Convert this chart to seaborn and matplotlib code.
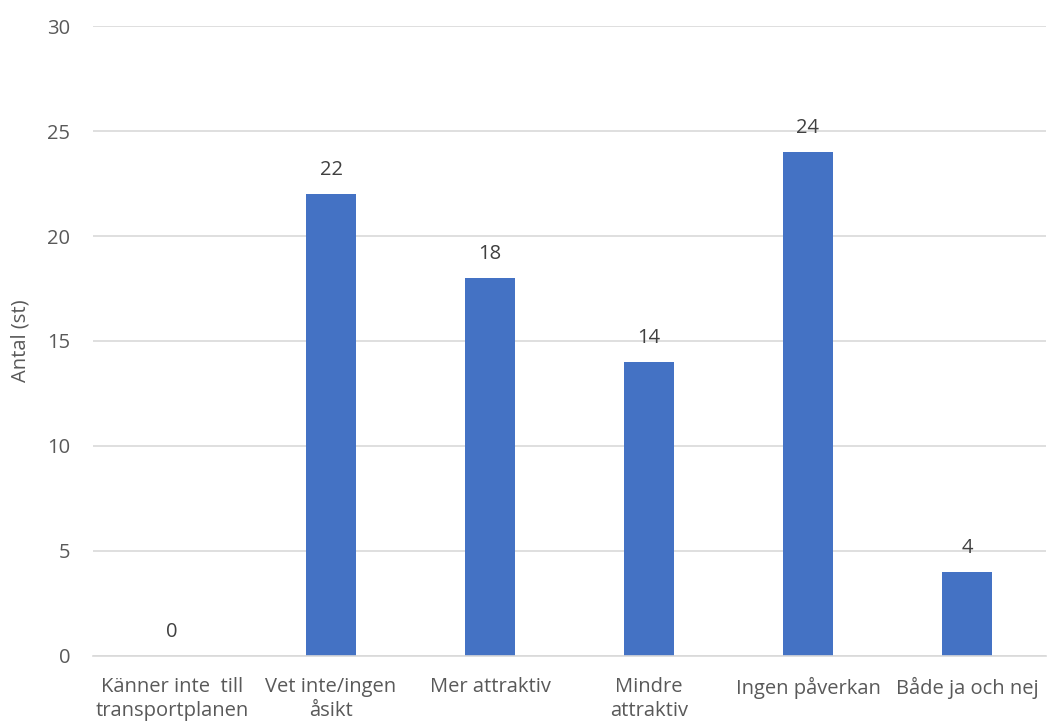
import matplotlib
matplotlib.use("Agg")
import matplotlib.pyplot as plt
import seaborn as sns
import pandas as pd

# ----------------- Dados -----------------
kategorier = ["Känner inte  till\ntransportplanen", "Vet inte/ingen\nåsikt", "Mer attraktiv",
              "Mindre\nattraktiv", "Ingen påverkan", "Både ja och nej"]
antal = [0, 22, 18, 14, 24, 4]
yticks = [0, 5, 10, 15, 20, 25, 30]

df = pd.DataFrame({"kategori": kategorier, "antal": antal})

sns.set_theme(style="white")
plt.rcParams['font.family'] = ['Open Sans', 'DejaVu Sans']

txt = "#595959"
fs = 14.5
fig = plt.figure(figsize=(10.47, 7.27), dpi=100)
ax = fig.add_axes([0.0884, 0.0977, 0.9111, 0.8665])

sns.barplot(data=df, x="kategori", y="antal", color="#4472C4", width=0.31,
            saturation=1, linewidth=0, ax=ax)

for i, v in enumerate(antal):
    ax.annotate(str(v), (i, v), xytext=(0, 10), textcoords="offset points",
                ha="center", va="bottom", fontsize=fs, color="#404040")

ax.set_ylim(0, 30)
ax.set_xlim(-0.5, len(kategorier) - 0.5)
ax.set_yticks(yticks)
ax.grid(axis="y", color="#D9D9D9", lw=1.2)
ax.set_axisbelow(True)
for s in ["top", "right", "left"]:
    ax.spines[s].set_visible(False)
ax.spines["bottom"].set_color("#D9D9D9")
ax.spines["bottom"].set_linewidth(1.2)
ax.tick_params(axis="both", length=0, labelsize=fs, labelcolor=txt)
ax.tick_params(axis="y", pad=16)
ax.tick_params(axis="x", pad=15)
for lbl in ax.get_xticklabels():
    lbl.set_linespacing(1.3)
ax.set_xlabel("")
ax.set_ylabel("Antal (st)", fontsize=fs, color=txt, labelpad=12)

plt.savefig("out.png", dpi=100)
